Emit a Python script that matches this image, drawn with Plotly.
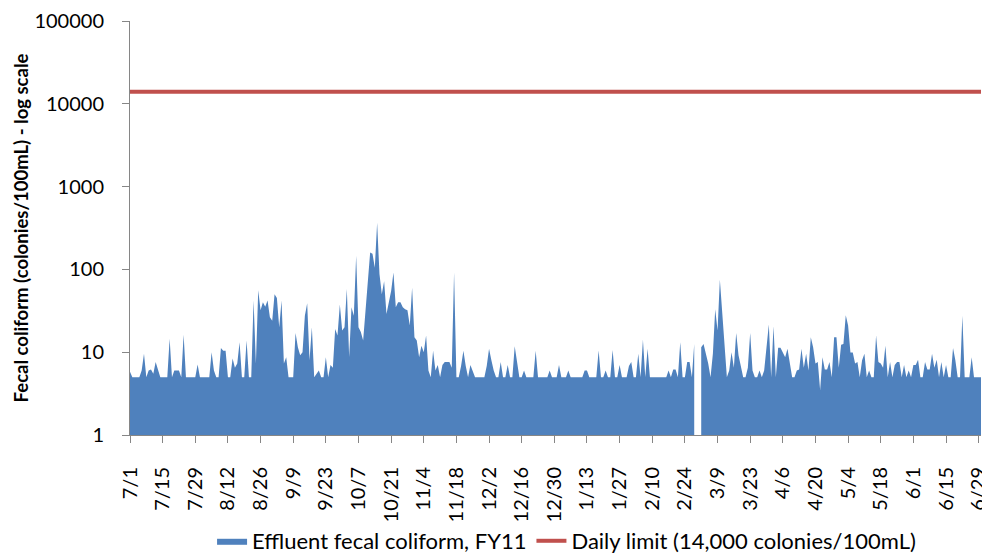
import pandas as pd
import plotly.graph_objects as go

# FY11 daily dates; the sheet has an extra "2/29" row (blank) and 3/1 is blank too
dates = [d.strftime("%-m/%-d") for d in pd.date_range("2010-07-01", "2011-06-30")]
dates.insert(dates.index("3/1"), "2/29")

coliform = [
    5.8, 5, 5, 5, 5, 6, 9.6, 5, 6, 6.2, 5.5, 7.6, 6.2, 5, 5, 5, 5, 14.5, 5, 6,
    6, 6, 5, 16.2, 5, 5, 5, 5, 5, 7.1, 5, 5, 5, 5, 5, 10, 6, 5, 5, 11.2,
    10.4, 10.4, 5, 5, 8.4, 6.5, 7.3, 13.2, 5, 5, 13.8, 5, 5, 42, 7.3, 56, 32, 40, 35.5, 42,
    26.4, 24, 50, 45, 20, 42, 7.3, 8.7, 5, 5, 5, 17, 11.5, 9.2, 10, 27.6, 38.9, 8, 20, 5,
    5.5, 6, 5, 5, 8.7, 5, 7, 6.5, 19, 15.9, 37.6, 18.3, 20, 58, 8.7, 34.8, 27.6, 146, 20, 17.5,
    13.8, 30, 72, 160, 155, 105, 366, 88, 50, 72, 29, 42, 55, 92, 34.8, 40, 40, 35, 33, 32,
    21, 60, 15.2, 13.8, 8.7, 12, 10, 15.9, 6, 5, 10.4, 6, 7, 5, 7, 7.6, 7.6, 7.6, 6.5, 92,
    5, 5, 6.8, 10.4, 6.8, 5, 7, 6, 5, 5, 5, 5, 5, 6.8, 11, 8, 6, 5, 5, 7.6,
    5, 5, 7, 5, 5, 11.8, 7.3, 5, 5, 6, 5, 5, 5, 5, 10.4, 5, 5, 5, 5, 5,
    6, 5, 5, 5, 7, 5, 5, 5, 6, 5, 5, 5, 5, 5, 5, 6, 6, 5, 5, 5,
    5, 10.5, 5, 5, 6, 5, 5, 10.6, 5, 5, 7, 5, 5, 5, 6.8, 7.6, 5, 5, 9.6, 5,
    14.1, 5, 11, 5, 5, 5, 5, 5, 5, 5, 5, 6, 5, 6.2, 6.2, 5, 13.2, 5, 5, 7.6,
    7.6, 5, 12.6, None, None, 11.5, 12.6, 9.6, 7.3, 5, 9.6, 33, 18.3, 75, 29, 15.2, 5, 6, 10, 6.5,
    17, 9.2, 6.8, 5, 5, 6.5, 17, 6, 5, 5, 6, 5, 6, 10.5, 21.6, 5, 20.6, 5, 11.3, 11.3,
    10, 8.7, 11, 7.3, 5, 5, 6, 6.2, 11, 6.5, 9.6, 6, 15.2, 11.5, 7.3, 7.6, 3.5, 8.7, 6.2, 6.2,
    7.6, 5, 15.2, 15.2, 6.5, 12.3, 12.6, 28, 21, 9.9, 9.9, 7.3, 7.6, 5, 8, 9.6, 5, 6, 5, 5,
    15.9, 7.6, 7.3, 6.5, 12, 5, 7.6, 5, 7, 7.6, 7.6, 5, 7, 5, 6, 5, 7, 7, 8.1, 5,
    5, 7.6, 6.2, 6.2, 9.6, 6.5, 8.1, 5, 7.6, 5, 7, 5, 5, 11.2, 8, 5, 5, 27.6, 5, 5,
    5, 8.7, 5, 5, 5, 5,
]
daily_limit = 14000

tick_labels = dates[::14]
y_ticks = [1, 10, 100, 1000, 10000, 100000]

FONT = "Lato"
BLUE = "#4F81BD"
AXIS = "#868686"

# split the series at blank days so the area breaks there like in Excel
segments, cur = [], []
for d, v in zip(dates, coliform):
    if v is None:
        if cur:
            segments.append(cur)
        cur = []
    else:
        cur.append((d, v))
if cur:
    segments.append(cur)

fig = go.Figure()
for i, seg in enumerate(segments):
    fig.add_trace(go.Scatter(
        x=[p[0] for p in seg], y=[p[1] for p in seg], mode="lines", fill="tozeroy",
        line=dict(color=BLUE, width=0), fillcolor=BLUE,
        name="Effluent fecal coliform, FY11", legendgroup="fc", showlegend=(i == 0),
    ))
fig.add_trace(go.Scatter(
    x=[dates[0], dates[-1]], y=[daily_limit, daily_limit], mode="lines",
    line=dict(color="#C0504D", width=4),
    name="Daily limit (14,000 colonies/100mL)",
))

# page body adds an 8px offset; figure is a bit taller than the window so the
# legend never pushes the margins
fig.update_layout(
    width=982, height=570,
    margin=dict(l=122, r=9, t=13, b=143),
    paper_bgcolor="white", plot_bgcolor="white",
    font=dict(family=FONT, size=20, color="#000000"),
    showlegend=True,
    legend=dict(orientation="h", x=0.513, xanchor="center", y=-0.256, yanchor="middle",
                font=dict(size=22), traceorder="normal", bgcolor="rgba(0,0,0,0)"),
)
fig.update_xaxes(
    type="category", categoryorder="array", categoryarray=dates,
    range=[0, len(dates) - 1], automargin=False,
    tickmode="array", tickvals=tick_labels, ticktext=tick_labels,
    tickangle=-90, ticks="outside", ticklen=7, tickcolor=AXIS, ticklabelstandoff=16,
    showline=True, linecolor=AXIS, linewidth=1, showgrid=False,
    tickfont=dict(size=20),
)
fig.update_yaxes(
    type="log", range=[0, 5], automargin=False, ticklabeloverflow="allow",
    tickmode="array", tickvals=y_ticks, ticktext=[str(v) for v in y_ticks],
    ticks="outside", ticklen=7, tickcolor=AXIS, ticklabelstandoff=14,
    showline=True, linecolor=AXIS, linewidth=1, showgrid=False,
    tickfont=dict(size=20),
    title=dict(text="<b>Fecal coliform (colonies/100mL) - log scale</b>",
               font=dict(size=18.5), standoff=0),
)

fig.write_html("out.html")
